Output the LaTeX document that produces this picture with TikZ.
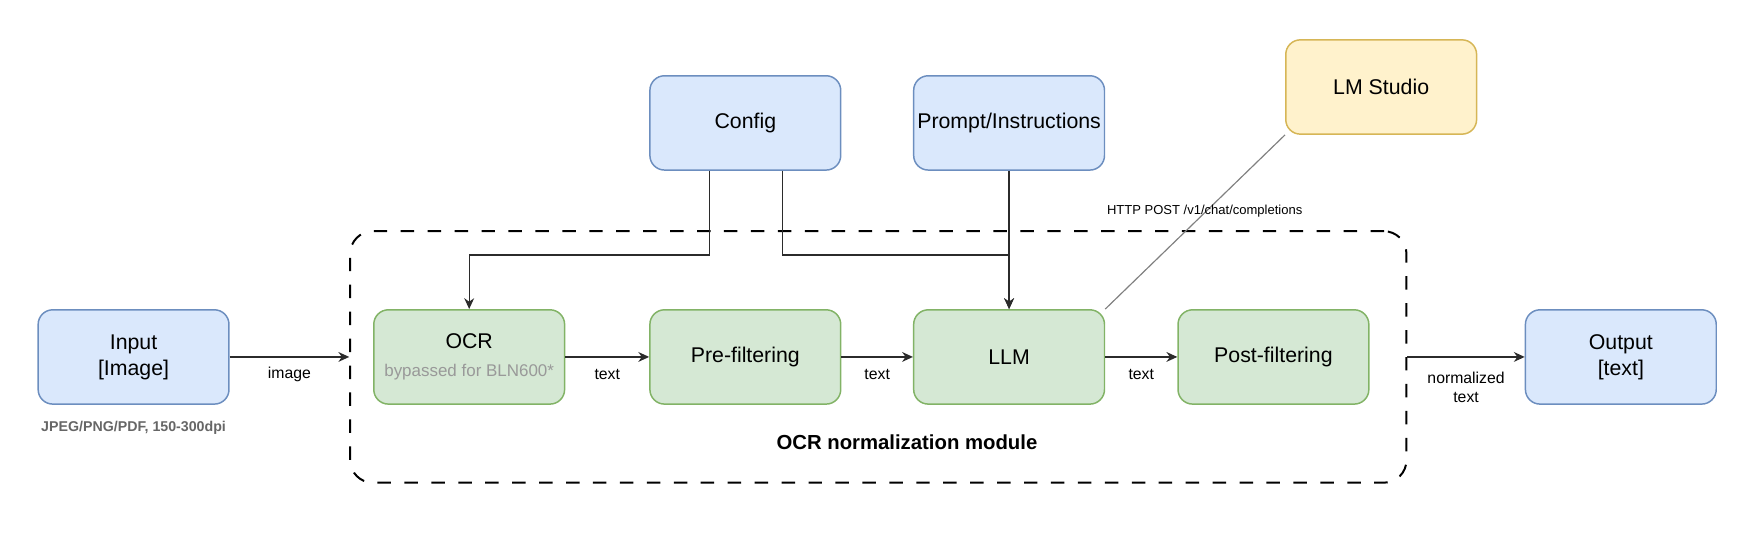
\documentclass[tikz,border=0pt]{standalone}
\usepackage{fontspec}
\setmainfont{Liberation Sans}
\usepackage{xcolor}
\usepackage{tikz}
\usetikzlibrary{shapes,arrows,arrows.meta}
\definecolor{bluefill}{HTML}{DAE8FC}
\definecolor{bluedraw}{HTML}{6C8EBF}
\definecolor{greenfill}{HTML}{D5E8D4}
\definecolor{greendraw}{HTML}{82B366}
\definecolor{yellowfill}{HTML}{FFF2CC}
\definecolor{yellowdraw}{HTML}{D6B656}
\definecolor{notegrey}{HTML}{999999}
\definecolor{formatgrey}{HTML}{666666}
\definecolor{wiregrey}{HTML}{2B2B2B}
\tikzstyle{block} = [rectangle, draw=bluedraw, fill=bluefill, line width=0.75pt,
    minimum width=3.4cm, minimum height=1.68cm, inner sep=1pt, text centered,
    align=center, rounded corners=0.26cm, font=\fontsize{10.8}{13.2}\selectfont]
\tikzstyle{greenblock} = [block, draw=greendraw, fill=greenfill]
\tikzstyle{yellowblock} = [block, draw=yellowdraw, fill=yellowfill]
\tikzstyle{container} = [rectangle, draw, line width=1pt, dash pattern=on 0.24cm off 0.24cm,
    minimum width=18.82cm, minimum height=4.48cm, rounded corners=0.4cm]
\tikzstyle{arrow} = [draw=wiregrey, -{Stealth[length=5.5pt,width=5pt]}, line width=0.7pt]
\tikzstyle{line} = [draw=wiregrey, line width=0.6pt]
\tikzstyle{edgelabel} = [midway, anchor=center, yshift=-0.32cm, align=center, font=\fontsize{8}{9.4}\selectfont]
\tikzstyle{httplabel} = [midway, anchor=center, xshift=0.17cm, yshift=0.2cm, font=\fontsize{6.6}{8}\selectfont]

\begin{document}
\begin{tikzpicture}[node distance = 2cm, auto]
			\useasboundingbox (0,0) rectangle (31.36,9.588);
			% Place nodes
			\node [block] at (2.38,3.228) (input) {Input\\{}[Image]};
			\node [below of=input, node distance=1.26cm, text=formatgrey, font=\bfseries\fontsize{7.2}{8.6}\selectfont] (format) {JPEG/PNG/PDF, 150-300dpi};
			\node [greenblock, right of=input, node distance=5.98cm] (ocr) {OCR\\[1pt]{\fontsize{8.6}{10}\selectfont\color{notegrey}bypassed for BLN600*}};
			\node [greenblock, right of=ocr, node distance=4.92cm] (pre) {Pre-filtering};
			\node [greenblock, right of=pre, node distance=4.7cm] (llm) {LLM};
			\node [greenblock, right of=llm, node distance=4.71cm] (post) {Post-filtering};
			\node [block, right of=post, node distance=6.19cm] (output) {Output\\{}[text]};

			\node [block, above of=pre, node distance=4.17cm] (config) {Config};
			\node [block, above of=llm, node distance=4.17cm] (prompt) {Prompt/Instructions};
			\node [yellowblock, above of=post, node distance=4.81cm, xshift=1.92cm] (lmstudio) {LM Studio};

			\node [container, right of=pre, node distance=2.37cm] (module) {};
			\node [below of=module, node distance=1.52cm, xshift=0.51cm, font=\bfseries\fontsize{10.3}{12}\selectfont] (modulename) {OCR normalization module};

			% Draw edges
			\path [arrow] (input) -- node [edgelabel] {image} (module.west);
			\path [arrow] (ocr) -- node [edgelabel] {text} (pre);
			\path [arrow] (pre) -- node [edgelabel] {text} (llm);
			\path [arrow] (llm) -- node [edgelabel] {text} (post);
			\path [arrow] (module.east) -- node [edgelabel, yshift=-0.22cm] {normalized\\text} (output);

			\path [arrow] ([xshift=-0.64cm]config.south) -- ++(0,-1.5) -| (ocr.north);
			\path [arrow] ([xshift=0.66cm]config.south) -- ++(0,-1.5) -| (llm.north);
			\path [arrow] (prompt) -- (llm);

			\path [line, draw=gray] (llm.north east) -- node [httplabel] {HTTP POST /v1/chat/completions} (lmstudio.south west);
	\end{tikzpicture}
\end{document}
